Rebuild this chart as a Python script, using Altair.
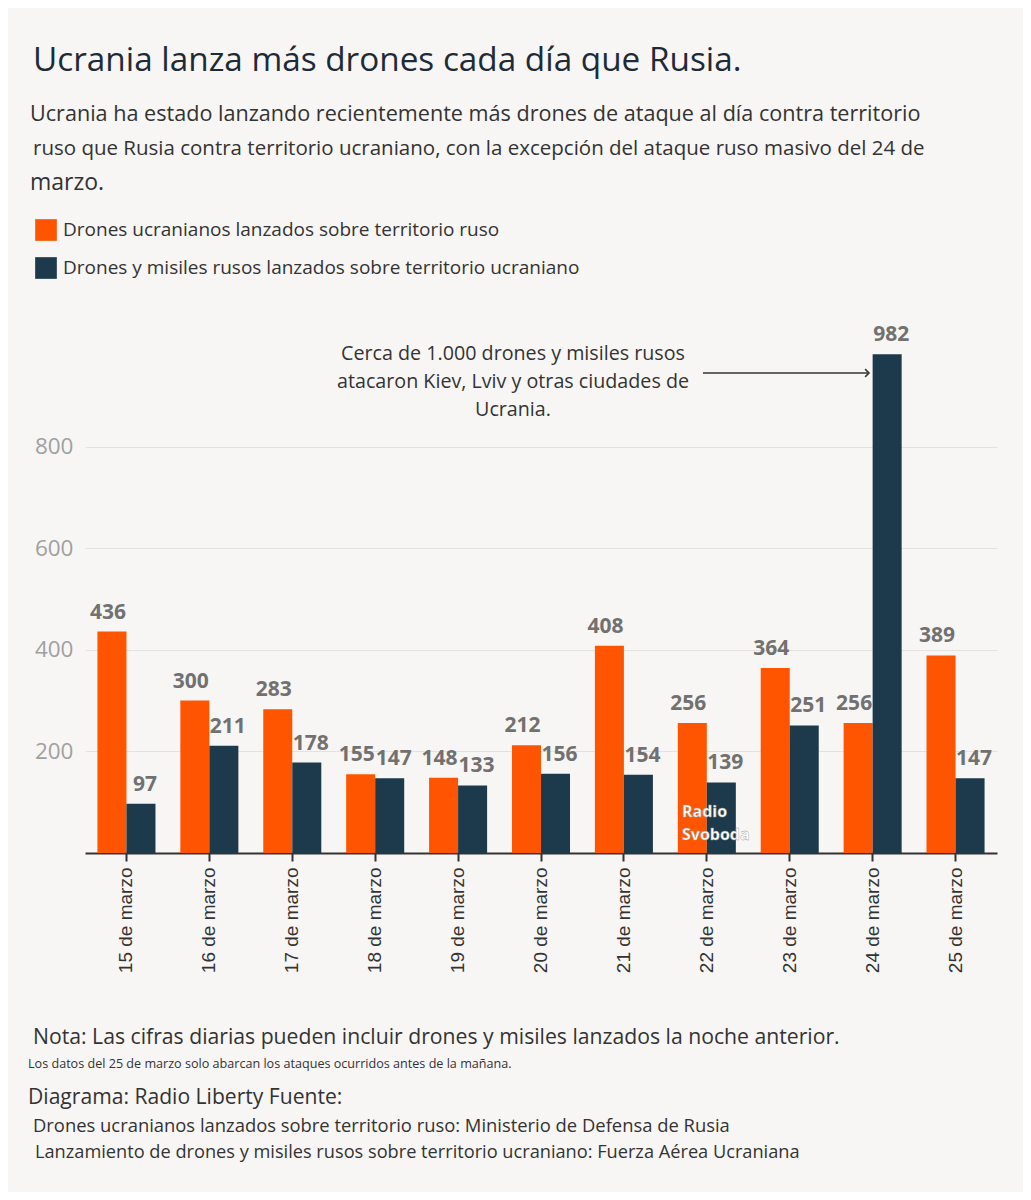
import altair as alt
import pandas as pd

fechas = ["15 de marzo", "16 de marzo", "17 de marzo", "18 de marzo", "19 de marzo",
          "20 de marzo", "21 de marzo", "22 de marzo", "23 de marzo", "24 de marzo", "25 de marzo"]
ucranianos = [436, 300, 283, 155, 148, 212, 408, 256, 364, 256, 389]
rusos = [97, 211, 178, 147, 133, 156, 154, 139, 251, 982, 147]
serie_ucr = "Drones ucranianos lanzados sobre territorio ruso"
serie_rus = "Drones y misiles rusos lanzados sobre territorio ucraniano"
series = [serie_ucr, serie_rus]
colores = ["#ff5500", "#1c3a4c"]
y_ticks = [200, 400, 600, 800]

titulo = "Ucrania lanza más drones cada día que Rusia."
sub1 = "Ucrania ha estado lanzando recientemente más drones de ataque al día contra territorio"
sub2 = "ruso que Rusia contra territorio ucraniano, con la excepción del ataque ruso masivo del 24 de"
sub3 = "marzo."
anotacion = ["Cerca de 1.000 drones y misiles rusos", "atacaron Kiev, Lviv y otras ciudades de", "Ucrania."]
nota = "Nota: Las cifras diarias pueden incluir drones y misiles lanzados la noche anterior."
nota2 = "Los datos del 25 de marzo solo abarcan los ataques ocurridos antes de la mañana."
diagrama = "Diagrama: Radio Liberty Fuente:"
fuente1 = "Drones ucranianos lanzados sobre territorio ruso: Ministerio de Defensa de Rusia"
fuente2 = "Lanzamiento de drones y misiles rusos sobre territorio ucraniano: Fuerza Aérea Ucraniana"

rows = []
for f, u, r in zip(fechas, ucranianos, rusos):
    rows.append({"fecha": f, "serie": serie_ucr, "valor": u})
    rows.append({"fecha": f, "serie": serie_rus, "valor": r})
df = pd.DataFrame(rows)

FONT = "Open Sans"
W, H = 912, 508

x_enc = alt.X("fecha:N", sort=fechas,
              scale=alt.Scale(paddingInner=0.3, paddingOuter=0.15),
              axis=alt.Axis(title=None, labelAngle=-90, labelFontSize=19, labelColor="#333333",
                            labelFont="Liberation Sans", labelPadding=6, domainColor="#333333",
                            domainWidth=2, tickColor="#333333", tickWidth=2, tickSize=8, grid=False))
xo_enc = alt.XOffset("serie:N", sort=series, scale=alt.Scale(paddingInner=0, paddingOuter=0))
y_enc = alt.Y("valor:Q", scale=alt.Scale(domain=[0, 1000], nice=False),
              axis=alt.Axis(title=None, values=y_ticks, domain=False, ticks=False,
                            labelColor="#a0a0a0", labelFontSize=22.5, labelFont=FONT,
                            labelPadding=12, gridColor="#e4e2e0", gridWidth=1.2))
color_enc = alt.Color("serie:N",
                      scale=alt.Scale(domain=series, range=colores),
                      legend=alt.Legend(title=None, orient="none", legendX=-50, legendY=-126,
                                        direction="vertical", symbolType="square", symbolSize=470,
                                        symbolStrokeWidth=0, symbolOpacity=1, labelFontSize=19,
                                        labelColor="#333333", labelFont=FONT, rowPadding=16,
                                        labelOffset=6, labelLimit=900, padding=0))

base = alt.Chart(df).encode(x=x_enc, xOffset=xo_enc, y=y_enc)

def bars(s):
    return base.transform_filter(alt.datum.serie == s).mark_bar().encode(color=color_enc)

def labels(s, dx):
    return base.transform_filter(alt.datum.serie == s).mark_text(
        dy=-9, dx=dx, baseline="bottom", fontSize=21, fontWeight="bold", color="#717171",
        font="Open Sans"
    ).encode(text="valor:Q")

one = pd.DataFrame({"k": [0]})

def txt(t, x, y, size, color="#333333", align="left", weight="normal", lh=None, font=FONT):
    kw = dict(align=align, baseline="middle", fontSize=size, color=color, font=font, fontWeight=weight)
    if lh:
        kw["lineHeight"] = lh
    return alt.Chart(one).mark_text(**kw).encode(x=alt.value(x), y=alt.value(y), text=alt.value(t))

arrow_line = alt.Chart(one).mark_rule(color="#333333", strokeWidth=1.5).encode(
    x=alt.value(618), x2=alt.value(783), y=alt.value(28))
arrow_head = alt.Chart(one).mark_point(shape="M -1 -1 L 0 0 L -1 1", filled=False, color="#333333",
                                       size=60, strokeWidth=1.5, opacity=1).encode(
    x=alt.value(784), y=alt.value(28))

layers = [
    bars(serie_ucr), labels(serie_ucr, -4), bars(serie_rus), labels(serie_rus, 4),
    txt(titulo, -52, -284, 33.3, color="#1d2b38"),
    txt(sub1, -55, -230, 21.6),
    txt(sub2, -52, -196, 20.5),
    txt(sub3, -55, -162, 23),
    txt(anotacion, 428, 9, 19.7, align="center", lh=28),
    arrow_line, arrow_head,
    alt.Chart(one).mark_text(align="left", baseline="middle", fontSize=16, fontWeight="bold",
                             color="white", stroke="#9a9a9a", strokeWidth=0.4, font=FONT,
                             lineHeight=23).encode(
        x=alt.value(597), y=alt.value(467), text=alt.value(["Radio", "Svoboda"])),
    txt(nota, -52, 693, 21.2),
    txt(nota2, -57, 719, 12.6),
    txt(diagrama, -57, 753, 21.1),
    txt(fuente1, -52, 781, 18.4),
    txt(fuente2, -50, 808, 18.2),
]

chart = alt.LayerChart(layer=layers).properties(
    width=W, height=H,
    autosize=alt.AutoSizeParams(type="none"),
    padding={"left": 77, "top": 337, "right": 26, "bottom": 339},
    background="#f8f6f4",
).configure_view(stroke=None)

chart.save("out.html", embed_options={"renderer": "svg", "actions": False})
